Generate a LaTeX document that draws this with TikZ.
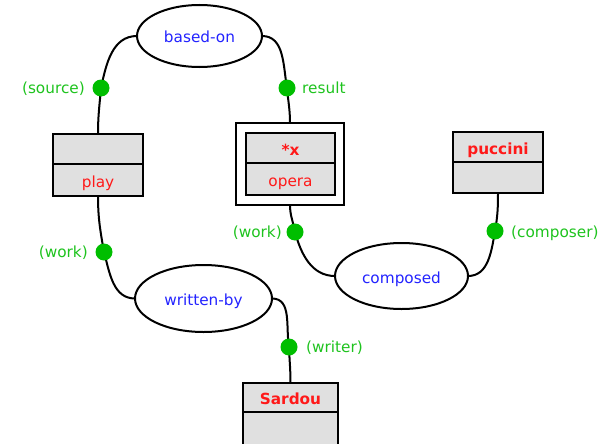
\documentclass[tikz,border=0pt]{standalone}
\usepackage{fontspec}
\setmainfont{DejaVu Sans}
\usetikzlibrary{shapes.geometric,backgrounds}
\definecolor{dotgreen}{RGB}{0,190,0}
\definecolor{lblgreen}{RGB}{30,195,30}
\definecolor{relblue}{RGB}{35,35,255}
\definecolor{conred}{RGB}{255,25,25}
\definecolor{cellgray}{RGB}{224,224,224}

\begin{document}
\begin{tikzpicture}[x=1pt,y=1pt,
  every node/.style={font=\fontsize{15.3pt}{18pt}\selectfont},
  rel/.style={ellipse, draw, line width=2pt, fill=white, inner sep=0pt, outer sep=0pt,
    text=relblue, text height=15pt, text depth=1pt},
  cell/.style={rectangle, draw, line width=2pt, fill=cellgray, inner sep=0pt, outer sep=0pt,
    text=conred, text height=15pt, text depth=1pt},
  frame/.style={rectangle, draw, line width=2pt, fill=white, inner sep=0pt, outer sep=0pt},
  port/.style={circle, fill=dotgreen, minimum size=17pt, inner sep=0pt},
  lbl/.style={text=lblgreen, inner sep=0pt},
  conn/.style={line width=2pt, black}]
\useasboundingbox (0,0) rectangle (610,-444);

% relation ellipses
\node[rel, minimum width=125pt, minimum height=62pt] (based) at (199.5,-36) {based-on};
\node[rel, minimum width=133pt, minimum height=66pt] (composed) at (401.5,-276) {composed};
\node[rel, minimum width=137pt, minimum height=67pt] (written) at (203.5,-298.5) {written-by};

% concept boxes
\node[cell, minimum width=90pt, minimum height=30pt] (playT) at (98,-149) {};
\node[cell, minimum width=90pt, minimum height=32pt, anchor=north] (playB) at (playT.south) {play};

\node[frame, minimum width=108pt, minimum height=82pt] (operaFrame) at (290,-164) {};
\node[cell, minimum width=89pt, minimum height=30pt] (operaT) at (290.5,-148) {\bfseries *x};
\node[cell, minimum width=89pt, minimum height=32pt, anchor=north] (operaB) at (operaT.south) {opera};

\node[cell, minimum width=90pt, minimum height=30pt] (pucT) at (498,-147) {\bfseries puccini};
\node[cell, minimum width=90pt, minimum height=31pt, anchor=north] (pucB) at (pucT.south) {};

\node[cell, minimum width=95pt, minimum height=29pt] (sarT) at (290.5,-397.5) {\bfseries Sardou};
\node[cell, minimum width=95pt, minimum height=33pt, anchor=north] (sarB) at (sarT.south) {};

% role ports
\node[port] (src)   at (101,-88) {};
\node[port] (res)   at (287,-88) {};
\node[port] (workP) at (104,-252) {};
\node[port] (workO) at (295,-232) {};
\node[port] (comp)  at (495,-231) {};
\node[port] (wri)   at (289,-347) {};

% role labels
\node[lbl, anchor=base east] (srcL)   at ([xshift=-16pt,yshift=-5pt]src.center) {(source)};
\node[lbl, anchor=base west] (resL)   at ([xshift=15pt,yshift=-5pt]res.center) {result};
\node[lbl, anchor=base east] (workPL) at ([xshift=-16pt,yshift=-5pt]workP.center) {(work)};
\node[lbl, anchor=base east] (workOL) at ([xshift=-13pt,yshift=-5pt]workO.center) {(work)};
\node[lbl, anchor=base west] (compL)  at ([xshift=16pt,yshift=-6pt]comp.center) {(composer)};
\node[lbl, anchor=base west] (wriL)   at ([xshift=17pt,yshift=-5pt]wri.center) {(writer)};

% arcs
\begin{scope}[on background layer]
\draw[conn] (based.west) to[out=180,in=78] (src.center);
\draw[conn] (src.center) to[out=-95,in=90] (playT.north);
\draw[conn] (based.east) to[out=0,in=100] (res.center);
\draw[conn] (res.center) to[out=-85,in=90] (operaFrame.north);
\draw[conn] (operaFrame.south) to[out=-90,in=100] (workO.center);
\draw[conn] (workO.center) to[out=-75,in=180] (composed.west);
\draw[conn] (pucB.south) to[out=-90,in=80] (comp.center);
\draw[conn] (comp.center) to[out=-100,in=0] (composed.east);
\draw[conn] (playB.south) to[out=-90,in=100] (workP.center);
\draw[conn] (workP.center) to[out=-75,in=180] (written.west);
\draw[conn] (written.east) to[out=0,in=100] (wri.center);
\draw[conn] (wri.center) to[out=-88,in=90] (sarT.north);
\end{scope}
\end{tikzpicture}
\end{document}
